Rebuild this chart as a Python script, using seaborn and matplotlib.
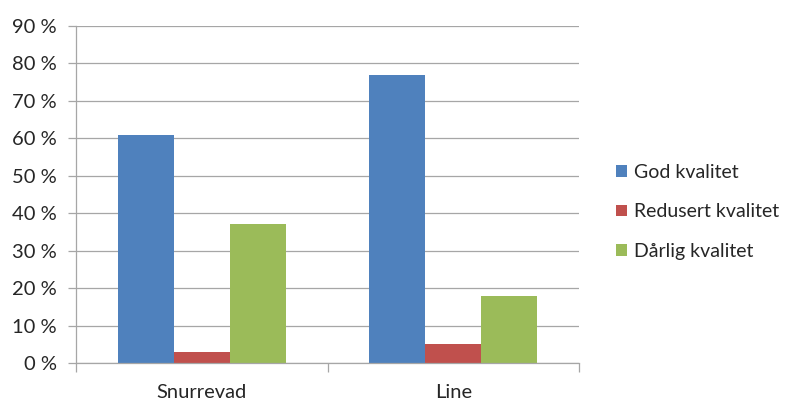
import matplotlib
matplotlib.use("Agg")
import matplotlib.pyplot as plt
import seaborn as sns
import pandas as pd
from matplotlib.ticker import FuncFormatter, FixedLocator
from matplotlib.patches import Patch

categories = ["Snurrevad", "Line"]
series_names = ["God kvalitet", "Redusert kvalitet", "Dårlig kvalitet"]
god = [61, 77]
redusert = [3, 5]
darlig = [37, 18]
colors = ["#4F81BD", "#C0504D", "#9BBB59"]
y_ticks = list(range(0, 100, 10))

values = {"God kvalitet": god, "Redusert kvalitet": redusert, "Dårlig kvalitet": darlig}
rows = []
for s in series_names:
    for c, v in zip(categories, values[s]):
        rows.append({"Fangst": c, "Kvalitet": s, "Andel": v})
df = pd.DataFrame(rows)

sns.set_theme(style="white")
plt.rcParams["font.family"] = ["Lato", "DejaVu Sans"]

fig = plt.figure(figsize=(7.91, 4.05), dpi=100)
ax = fig.add_axes([0.0961, 0.1037, 0.636, 0.832])

sns.barplot(data=df, x="Fangst", y="Andel", hue="Kvalitet", order=categories,
            hue_order=series_names, palette=colors, width=0.667, gap=0,
            saturation=1, ax=ax, legend=False, linewidth=0)

grid_col = "#A6A6A6"
text_col = "#262626"
ax.set_ylim(0, 90)
ax.set_xlim(-0.5, 1.5)
ax.yaxis.set_major_locator(FixedLocator(y_ticks))
ax.yaxis.set_major_formatter(FuncFormatter(lambda v, p: f"{int(v)} %"))
ax.set_axisbelow(True)
ax.grid(axis="y", color=grid_col, linewidth=0.9)
ax.grid(axis="x", visible=False)
ax.set_xlabel("")
ax.set_ylabel("")

for side in ["top", "right"]:
    ax.spines[side].set_visible(False)
for side in ["left", "bottom"]:
    ax.spines[side].set_color(grid_col)
    ax.spines[side].set_linewidth(0.9)

ax.tick_params(axis="y", which="major", length=6, width=0.9, color=grid_col,
               direction="out", labelsize=14.5, labelcolor=text_col, pad=8, left=True)
ax.tick_params(axis="x", which="major", length=0, labelsize=14.5,
               labelcolor=text_col, pad=15)
ax.xaxis.set_minor_locator(FixedLocator([-0.5, 0.5, 1.5]))
ax.tick_params(axis="x", which="minor", length=6.5, width=0.9, color=grid_col,
               direction="out", bottom=True)

handles = [Patch(facecolor=c, edgecolor="none") for c in colors]
fig.legend(handles, series_names, loc="center left", bbox_to_anchor=(0.757, 0.477),
           frameon=False, fontsize=14, handlelength=0.55, handleheight=0.55,
           handletextpad=0.35, labelspacing=1.15, labelcolor=text_col)

fig.savefig("out.png", dpi=100)
